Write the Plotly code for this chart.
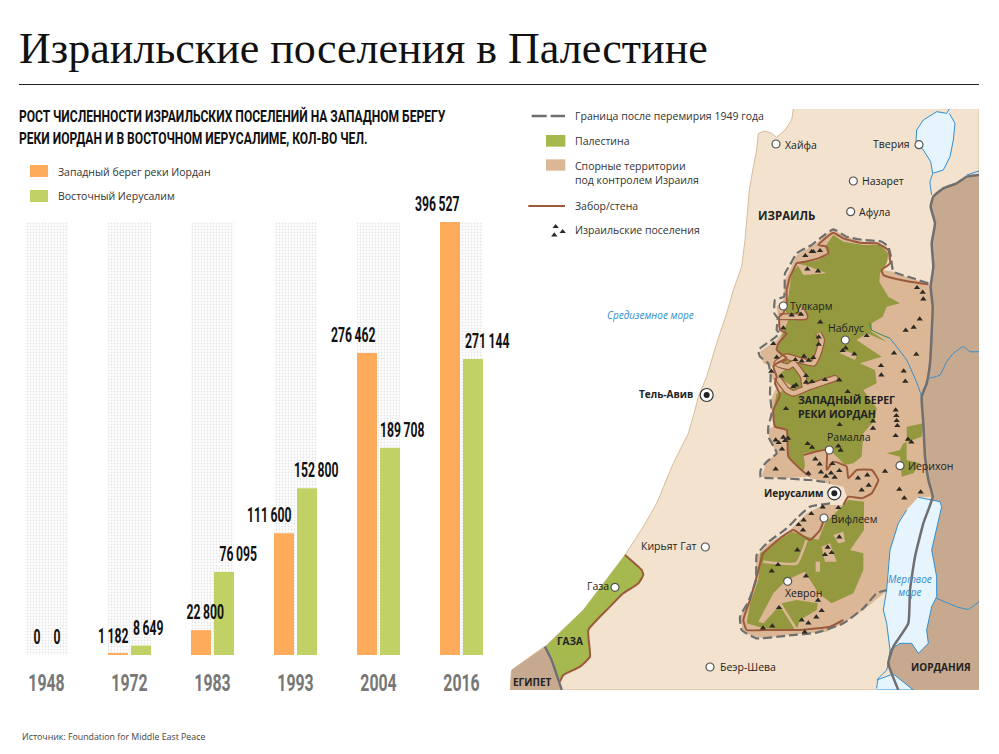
import plotly.graph_objects as go

W, H = 999, 754
NARROW = "Roboto"
SANS = "Open Sans"

# ── Bar data ───────────────────────────────────────────────────────────────
years = ["1948", "1972", "1983", "1993", "2004", "2016"]
west_bank = [0, 1182, 22800, 111600, 276462, 396527]
east_jerusalem = [0, 8649, 76095, 152800, 189708, 271144]
backdrop = [396527] * 6

# label shifts, px from the group centre
west_shift = [-10, -17, -7, -26, -25, -24]
east_shift = [10, 18, 26, 21, 24, 26]

# ── Map outlines, in units of 1/3 px (y of the lower half = y + 870) ───────
land = [(850, 27), (845, 60), (825, 90), (800, 112), (785, 100), (765, 93), (745, 100), (740, 150), (730, 200),
        (722, 240), (718, 270), (712, 340), (705, 420), (695, 500), (670, 570), (650, 640), (620, 730), (590, 830),
        (565, 890), (555, 930), (535, 1000), (490, 1090), (440, 1210), (400, 1280), (345, 1365), (220, 1530),
        (110, 1635), (5, 1710), (0, 1770), (1407, 1770), (1407, 27)]
jordan = [(1407, 225), (1370, 230), (1340, 250), (1300, 265), (1270, 290), (1262, 320), (1275, 370), (1265, 430),
          (1270, 500), (1262, 560), (1268, 620), (1265, 700), (1260, 790), (1250, 850), (1235, 890), (1240, 970),
          (1245, 1070), (1255, 1140), (1268, 1190), (1240, 1270), (1215, 1370), (1200, 1470), (1195, 1570),
          (1150, 1640), (1135, 1690), (1165, 1770), (1407, 1770)]
egypt = [(5, 1710), (105, 1640), (125, 1680), (150, 1770), (0, 1770)]
border_egypt = [(105, 1640), (125, 1680), (155, 1770)]
gaza = [(345, 1365), (395, 1410), (400, 1425), (385, 1450), (340, 1480), (300, 1520), (235, 1590), (240, 1670),
        (210, 1700), (160, 1725), (150, 1745), (130, 1680), (108, 1638), (220, 1530)]
wall_gaza = [(345, 1365), (395, 1410), (400, 1425), (385, 1450), (340, 1480), (300, 1520), (235, 1590), (240, 1670),
             (210, 1700), (160, 1725), (150, 1745)]
disputed = [(970, 390), (945, 405), (920, 430), (860, 465), (840, 510), (825, 540), (820, 600), (800, 620), (805, 660),
            (815, 700), (800, 720), (750, 755), (760, 790), (790, 800), (785, 830), (800, 860), (785, 895), (785, 930),
            (790, 980), (770, 990), (790, 1040), (800, 1060), (770, 1085), (755, 1130), (820, 1135), (895, 1130),
            (950, 1150), (1000, 1160), (1010, 1190), (1000, 1215), (940, 1215), (890, 1240), (860, 1270), (840, 1290),
            (770, 1335), (740, 1370), (735, 1440), (720, 1500), (690, 1550), (700, 1600), (760, 1615), (830, 1605),
            (950, 1595), (1000, 1570), (1060, 1530), (1130, 1473), (1135, 1390), (1170, 1270), (1190, 1230),
            (1225, 1192), (1265, 1190), (1245, 1070), (1240, 970), (1235, 880), (1250, 850), (1260, 790), (1265, 700),
            (1268, 620), (1262, 560), (1255, 550), (1200, 535), (1150, 515), (1120, 510), (1140, 470), (1130, 440),
            (1100, 425), (1050, 425), (1000, 405)]
green_north = [(970, 405), (1000, 425), (1060, 435), (1110, 435), (1135, 460), (1130, 490), (1110, 520), (1108, 545),
               (1135, 590), (1170, 610), (1130, 620), (1118, 650), (1085, 670), (1085, 695), (1130, 725), (1070, 700),
               (1040, 720), (1115, 770), (1050, 790), (1095, 810), (1100, 850), (1060, 870), (1100, 925), (1095, 960),
               (1060, 1000), (1055, 1070), (1030, 1090), (1005, 1095), (970, 1060), (950, 1050), (880, 1060),
               (885, 1095), (880, 1115), (835, 1070), (830, 990), (795, 980), (790, 930), (800, 880), (850, 860),
               (800, 830), (835, 800), (800, 750), (810, 720), (835, 660), (825, 625), (835, 590), (845, 520),
               (870, 490), (925, 480), (955, 465), (945, 440)]
green_south = [(1015, 1200), (1062, 1205), (1062, 1290), (1020, 1350), (1060, 1360), (1060, 1410), (1030, 1480),
               (965, 1510), (925, 1480), (925, 1500), (920, 1530), (870, 1560), (860, 1590), (760, 1585), (710, 1570),
               (720, 1510), (745, 1440), (750, 1360), (845, 1295), (925, 1320), (945, 1270)]
green_jericho = [(1190, 980), (1240, 970), (1235, 1010), (1205, 1020), (1180, 1030), (1170, 1050), (1130, 1060),
                 (1170, 1070), (1175, 1130), (1210, 1120), (1230, 1090), (1190, 1080)]
tan_blobs = [
    [(860, 490), (900, 500), (950, 520), (880, 525)],
    [(970, 1305), (1000, 1295), (1005, 1325), (985, 1330)],
    [(935, 1340), (960, 1330), (980, 1385), (945, 1385)],
    [(917, 1385), (930, 1385), (930, 1415), (917, 1415)],
    [(885, 1065), (950, 1050), (950, 1110), (970, 1085), (1010, 1100), (1015, 1140), (900, 1135)],
    [(880, 1300), (935, 1265), (940, 1215), (860, 1270), (845, 1295)],
    [(1000, 750), (1040, 765), (1035, 780), (990, 760)],
    [(885, 1415), (925, 1480), (925, 1510), (860, 1500), (815, 1510), (760, 1570), (745, 1565), (790, 1480),
     (830, 1440)],
]
tan_veins = [
    [(890, 1320), (860, 1390), (760, 1385)],
    [(810, 1510), (860, 1590)],
]
corridors = [
    [(925, 700), (935, 720), (925, 760), (910, 790), (860, 778), (830, 770), (800, 790), (835, 800), (850, 790),
     (880, 830), (885, 860), (975, 835), (900, 860), (850, 880), (830, 870), (800, 830)],
    [(808, 650), (850, 650), (885, 650), (870, 625)],
]
wall_main = [(1255, 553), (1200, 545), (1150, 535), (1120, 525), (1115, 510), (1140, 490), (1135, 450), (1100, 430),
             (1050, 428), (1000, 415), (970, 398), (940, 420), (925, 435), (950, 440), (955, 460), (925, 475),
             (885, 485), (860, 490), (850, 510), (840, 530), (830, 570), (830, 610), (820, 640), (808, 650), (810, 690),
             (830, 700), (805, 730), (800, 750), (830, 775), (800, 790), (790, 800), (800, 830), (795, 850), (810, 885),
             (790, 930), (795, 980), (830, 990), (835, 1070), (880, 1115), (900, 1128)]
wall_jerusalem = [(880, 1065), (950, 1050), (950, 1110), (970, 1085), (1010, 1100), (1015, 1135), (1040, 1110),
                  (1085, 1110), (1105, 1140), (1085, 1180), (1055, 1195), (1015, 1190), (1000, 1215)]
wall_south = [(945, 1250), (930, 1290), (900, 1320), (850, 1290), (810, 1315), (760, 1360), (740, 1430), (720, 1500),
              (700, 1560), (710, 1590), (760, 1590), (870, 1590), (960, 1580), (1000, 1560)]
truce_north = [(1255, 550), (1210, 535), (1150, 515), (1143, 470), (1135, 440), (1115, 425), (1060, 420), (1010, 410),
               (970, 388), (930, 415), (905, 435), (860, 460), (840, 495), (825, 520), (822, 590), (795, 600),
               (793, 640), (803, 655), (800, 690), (808, 700), (785, 720), (745, 750), (750, 770), (775, 790),
               (782, 825), (780, 880), (785, 940), (775, 980), (775, 1010), (800, 1060), (770, 1085), (752, 1110),
               (752, 1132), (820, 1135), (900, 1140), (960, 1148)]
truce_south = [(960, 1210), (900, 1220), (860, 1255), (830, 1285), (770, 1330), (740, 1365), (738, 1440), (715, 1505),
               (690, 1550), (695, 1590), (740, 1615), (830, 1607), (920, 1598), (1000, 1570), (1060, 1525),
               (1100, 1480), (1130, 1470)]
tiberias = [(1318, 27), (1310, 40), (1280, 35), (1240, 60), (1220, 90), (1218, 125), (1240, 150), (1262, 185),
            (1268, 220), (1300, 210), (1320, 170), (1330, 120), (1335, 70), (1318, 40)]
dead_sea = [(1225, 1192), (1290, 1205), (1295, 1220), (1280, 1290), (1265, 1350), (1280, 1430), (1280, 1490),
            (1265, 1520), (1250, 1590), (1255, 1630), (1225, 1660), (1205, 1630), (1170, 1630), (1140, 1650),
            (1130, 1570), (1120, 1530), (1130, 1470), (1135, 1410), (1140, 1350), (1165, 1270), (1190, 1230)]
aqaba = [(1100, 1740), (1150, 1722), (1210, 1770), (1100, 1770)]
rivers = [
    [(1268, 222), (1260, 245), (1265, 285)],
    [(1370, 225), (1407, 213)],
    [(1258, 835), (1290, 825), (1310, 785), (1330, 760), (1360, 740), (1380, 755), (1407, 755)],
    [(1140, 715), (1190, 780), (1225, 860), (1235, 890)],
    [(1280, 1495), (1340, 1520), (1375, 1528), (1407, 1505)],
    [(1140, 1650), (1130, 1710), (1105, 1735), (1100, 1765)],
]
creek = [(1078, 668), (1085, 690), (1140, 715)]

settlements_x = [886, 905, 910, 930, 892, 924, 845, 873, 931, 820, 1070, 926, 926, 790, 800, 856, 882, 875, 896, 910,
                 1007, 998, 1033, 784, 814, 888, 888, 906, 945, 988, 858, 850, 1013, 1113, 1114, 1181, 1186, 1152,
                 1219, 1187, 1211, 1229, 1221, 1238, 1240, 828, 1157, 1159, 1160, 1162, 1157, 1089, 1089, 989, 797,
                 806, 820, 834, 825, 816, 893, 906, 985, 992, 1194, 1204, 916, 929, 967, 933, 948, 963, 974, 988, 895,
                 797, 1044, 1072, 1125, 1055, 1076, 1168, 1183, 1232, 938, 985, 904, 881, 866, 879, 988, 953, 965,
                 945, 862, 804, 785, 888, 924, 807, 935, 919, 875, 895, 759, 787, 884]
settlements_y = [467, 455, 455, 452, 507, 513, 645, 643, 666, 684, 707, 711, 733, 731, 772, 779, 769, 783, 781, 773,
                 744, 752, 762, 814, 828, 827, 847, 845, 839, 840, 855, 860, 875, 797, 825, 813, 844, 759, 763, 691,
                 682, 657, 563, 577, 597, 926, 930, 947, 962, 977, 1007, 963, 985, 974, 1020, 1028, 1012, 1015, 1022,
                 1047, 1031, 1042, 1038, 1051, 1018, 1026, 1077, 1092, 1091, 1116, 1129, 1119, 1132, 1112, 1120, 1107,
                 1134, 1125, 1114, 1170, 1156, 1168, 1194, 1176, 1221, 1223, 1241, 1260, 1274, 1290, 1311, 1342, 1358,
                 1364, 1350, 1394, 1413, 1428, 1501, 1523, 1532, 1551, 1560, 1569, 1584, 1578, 1596]

city_x = [798, 1227, 1030, 1022, 820, 1006, 958, 1170, 942, 833, 586, 315, 600]
city_y = [132, 134, 243, 335, 618, 720, 1050, 1097, 1254, 1444, 1341, 1462, 1701]
capital_x = [590, 973]
capital_y = [885, 1180]

# (text, x, y, anchor, size, colour, bold)
map_labels = [
    ("Граница после перемирия 1949 года", 195, 48, "left", 10.5, "#333333", False),
    ("Палестина", 195, 123, "left", 10.5, "#333333", False),
    ("Спорные территории<br>под контролем Израиля", 195, 218, "left", 10.5, "#333333", False),
    ("Забор/стена", 195, 318, "left", 10.5, "#333333", False),
    ("Израильские поселения", 195, 391, "left", 10.5, "#333333", False),
    ("Хайфа", 826, 135, "left", 10.5, "#222222", False),
    ("Тверия", 1200, 132, "right", 10.5, "#222222", False),
    ("Назарет", 1056, 243, "left", 10.5, "#222222", False),
    ("Афула", 1046, 336, "left", 10.5, "#222222", False),
    ("ИЗРАИЛЬ", 744, 346, "left", 11.5, "#222222", True),
    ("Тулкарм", 840, 619, "left", 10.5, "#222222", False),
    ("Наблус", 954, 684, "left", 10.5, "#222222", False),
    ("Тель-Авив", 550, 882, "right", 10, "#222222", True),
    ("ЗАПАДНЫЙ БЕРЕГ<br>РЕКИ ИОРДАН", 864, 921, "left", 10.5, "#222222", True),
    ("Рамалла", 950, 1012, "left", 10.5, "#222222", False),
    ("Иерихон", 1193, 1098, "left", 10.5, "#222222", False),
    ("Иерусалим", 940, 1180, "right", 10, "#222222", True),
    ("Вифлеем", 962, 1258, "left", 10.5, "#222222", False),
    ("Кирьят Гат", 557, 1338, "right", 10.5, "#222222", False),
    ("Газа", 298, 1458, "right", 10.5, "#222222", False),
    ("Хеврон", 824, 1480, "left", 10.5, "#222222", False),
    ("ГАЗА", 140, 1624, "left", 10, "#222222", True),
    ("Беэр-Шева", 631, 1701, "left", 10.5, "#222222", False),
    ("ЕГИПЕТ", 8, 1746, "left", 10, "#222222", True),
    ("ИОРДАНИЯ", 1204, 1701, "left", 10, "#222222", True),
]

fig = go.Figure()


def fmt(v):
    return f"{v:,}".replace(",", "\u2009")


# ── Bars ───────────────────────────────────────────────────────────────────
slot = 83
fig.add_trace(go.Bar(x=years, y=backdrop, width=43 / slot, offset=-21.5 / slot, hoverinfo="skip",
                     marker=dict(color="white", line_width=0,
                                 pattern=dict(shape=".", size=3, solidity=0.3, fgcolor="#cccccc", bgcolor="white"))))
fig.add_trace(go.Bar(x=years, y=west_bank, width=20 / slot, offset=-21.5 / slot, marker_color="#ffab5c",
                     marker_line_width=0, name="Западный берег реки Иордан"))
fig.add_trace(go.Bar(x=years, y=east_jerusalem, width=20 / slot, offset=1.5 / slot, marker_color="#c2d166",
                     marker_line_width=0, name="Восточный Иерусалим"))

annotations = []
for i, (a, b, sa, sb) in enumerate(zip(west_bank, east_jerusalem, west_shift, east_shift)):
    for val, shift in ((a, sa), (b, sb)):
        annotations.append(dict(x=i, y=val, xref="x", yref="y", text=fmt(val), showarrow=False, xshift=shift,
                                yanchor="bottom", yshift=6, borderpad=0, borderwidth=0,
                                font=dict(family=NARROW, size=21, color="#111111", weight="bold")))


# ── Map ────────────────────────────────────────────────────────────────────
def area(pts, fill, line=None, width=0):
    fig.add_trace(go.Scatter(x=[p[0] for p in pts], y=[p[1] for p in pts], xaxis="x2", yaxis="y2", mode="lines",
                             fill="toself", fillcolor=fill, hoverinfo="skip",
                             line=dict(color=line or fill, width=width)))


def path(pts, color, width, dash="solid"):
    fig.add_trace(go.Scatter(x=[p[0] for p in pts], y=[p[1] for p in pts], xaxis="x2", yaxis="y2", mode="lines",
                             hoverinfo="skip", line=dict(color=color, width=width, dash=dash, shape="spline",
                                                         smoothing=0.4)))


LAND, TAN, GREY = "#f3e2cd", "#dbb796", "#6f6f6f"
BROWN, BLUE, WATER = "#9c5a3c", "#2f8fd0", "#e6f4fd"
area(land, LAND, "#d8bb9c", 1)
area(jordan, "#c7a98f")
area(egypt, "#c7a98f")
area(gaza, "#a6b94e")
area(disputed, TAN)
area(green_north, "#94993f")
area(green_south, "#94993f")
area(green_jericho, "#94993f")
for blob in tan_blobs:
    area(blob, TAN)
for vein in tan_veins:
    path(vein, TAN, 2.5)
for c in corridors:
    path(c, BROWN, 7)
    path(c, TAN, 4.5)
area(tiberias, WATER, BLUE, 1)
area(dead_sea, WATER, BLUE, 1)
area(aqaba, WATER, BLUE, 1)
for r in rivers:
    path(r, BLUE, 1)
path(creek, "#2f8a5a", 1)
path(jordan[:26], GREY, 2.5)
path(border_egypt, GREY, 2.5)
path(wall_gaza, BROWN, 2)
for w in (wall_main, wall_jerusalem, wall_south):
    path(w, BROWN, 2)
for t in (truce_north, truce_south):
    path(t, GREY, 2.2, "9px,4px")

# map legend marks
path([(65, 48), (110, 48)], GREY, 2.5)
path([(122, 48), (165, 48)], GREY, 2.5)
path([(55, 318), (165, 318)], BROWN, 2)
area([(108, 105), (166, 105), (166, 140), (108, 140)], "#a6b94e")
area([(108, 178), (166, 178), (166, 212), (108, 212)], TAN)

fig.add_trace(go.Scatter(x=settlements_x + [137, 133, 158], y=settlements_y + [380, 405, 395], xaxis="x2", yaxis="y2",
                         mode="markers", hoverinfo="skip",
                         marker=dict(symbol="triangle-up", size=5.5, color="#2b2a25", line_width=0)))
fig.add_trace(go.Scatter(x=city_x, y=city_y, xaxis="x2", yaxis="y2", mode="markers", hoverinfo="skip",
                         marker=dict(size=8, color="white", line=dict(color="#555555", width=1.2))))
fig.add_trace(go.Scatter(x=capital_x, y=capital_y, xaxis="x2", yaxis="y2", mode="markers", hoverinfo="skip",
                         marker=dict(size=13, color="white", line=dict(color="#333333", width=1.2))))
fig.add_trace(go.Scatter(x=capital_x, y=capital_y, xaxis="x2", yaxis="y2", mode="markers", hoverinfo="skip",
                         marker=dict(size=6, color="#222222")))

for text, x, y, anchor, size, color, bold in map_labels:
    annotations.append(dict(x=x, y=y, xref="x2", yref="y2", text=text, showarrow=False, xanchor=anchor, align="left",
                            borderpad=0, borderwidth=0,
                            font=dict(family=SANS, size=size, color=color, weight="bold" if bold else "normal")))
annotations.append(dict(x=421, y=645, xref="x2", yref="y2", text="<i>Средиземное море</i>", showarrow=False,
                        font=dict(family=SANS, size=10, color=BLUE)))
annotations.append(dict(x=1200, y=1457, xref="x2", yref="y2", text="<i>Мертвое<br>море</i>", showarrow=False,
                        font=dict(family=SANS, size=10, color=BLUE)))


# ── Page furniture, in px ──────────────────────────────────────────────────
def px_x(v):
    return v / W


def px_y(v):
    return 1 - v / H


def page_text(text, x, y, font, anchor="middle"):
    annotations.append(dict(x=px_x(x), y=px_y(y), xref="paper", yref="paper", text=text, showarrow=False,
                            xanchor="left", yanchor=anchor, align="left", font=font, borderpad=0, borderwidth=0))


page_text("Израильские поселения в Палестине", 19, 48, dict(family="Liberation Serif", size=44, color="#111111"))
page_text("РОСТ ЧИСЛЕННОСТИ ИЗРАИЛЬСКИХ ПОСЕЛЕНИЙ НА ЗАПАДНОМ БЕРЕГУ", 19, 116,
          dict(family=NARROW, size=17, color="#111111", weight="bold"))
page_text("РЕКИ ИОРДАН И В ВОСТОЧНОМ ИЕРУСАЛИМЕ, КОЛ-ВО ЧЕЛ.", 19, 138,
          dict(family=NARROW, size=17, color="#111111", weight="bold"))
page_text("Западный берег реки Иордан", 58, 172, dict(family=SANS, size=10.5, color="#333333"))
page_text("Восточный Иерусалим", 58, 196, dict(family=SANS, size=10.5, color="#333333"))
page_text("Источник: Foundation for Middle East Peace", 22, 737, dict(family=SANS, size=8.8, color="#444444"))

shapes = [
    dict(type="line", xref="paper", yref="paper", x0=px_x(19), x1=px_x(979), y0=px_y(84.5), y1=px_y(84.5),
         line=dict(color="#222222", width=1)),
    dict(type="rect", xref="paper", yref="paper", x0=px_x(30), x1=px_x(48), y0=px_y(165), y1=px_y(177),
         fillcolor="#ffab5c", line_width=0),
    dict(type="rect", xref="paper", yref="paper", x0=px_x(30), x1=px_x(48), y0=px_y(190), y1=px_y(202),
         fillcolor="#c2d166", line_width=0),
]

fig.update_layout(
    width=W, height=H, margin=dict(l=0, r=0, t=0, b=0), showlegend=False, barmode="overlay",
    plot_bgcolor="white", paper_bgcolor="white", annotations=annotations, shapes=shapes,
    xaxis=dict(domain=[px_x(5), px_x(503)], type="category", categoryorder="array", categoryarray=years,
               range=[-0.5, 5.5], showgrid=False, zeroline=False, showline=False, ticks="outside", ticklen=6,
               tickcolor="rgba(0,0,0,0)", tickfont=dict(family=NARROW, size=24, color="#777777", weight="bold")),
    yaxis=dict(domain=[px_y(655), px_y(222)], range=[0, 396527], visible=False),
    xaxis2=dict(domain=[px_x(510), px_x(979)], range=[0, 1407], visible=False, anchor="y2"),
    yaxis2=dict(domain=[px_y(690), px_y(100)], range=[1770, 0], visible=False, anchor="x2"),
)

# squeeze the condensed display type (no narrow face is installed)
squeeze = """
document.body.style.margin = '0';
document.querySelectorAll('text').forEach(function (t) {
  if (t.style.fontFamily.indexOf('Roboto') < 0) { return; }
  var s = t.textContent;
  var k = s.length > 20 ? 0.71 : (/^[0-9]{4}$/.test(s) ? 0.66 : 0.58);
  t.setAttribute('lengthAdjust', 'spacingAndGlyphs');
  t.setAttribute('textLength', t.getComputedTextLength() * k);
});
"""
fig.write_html("out.html", config={"displayModeBar": False}, post_script=squeeze)
